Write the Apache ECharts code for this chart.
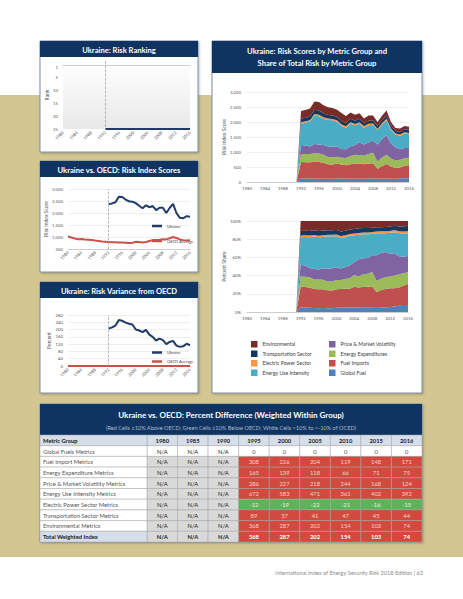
<!DOCTYPE html>
<html><head><meta charset="utf-8">
<script src="https://cdn.jsdelivr.net/npm/echarts@6.0.0/dist/echarts.min.js"></script>
<style>html,body{margin:0;padding:0;background:#fff}#c{width:463px;height:599px}</style>
</head><body><div id="c"></div>
<script>
// ---------- DATA ----------
const years = ['1980','1981','1982','1983','1984','1985','1986','1987','1988','1989','1990','1991','1992','1993','1994','1995','1996','1997','1998','1999','2000','2001','2002','2003','2004','2005','2006','2007','2008','2009','2010','2011','2012','2013','2014','2015','2016'];

const rankUkraine = [null,null,null,null,null,null,null,null,null,null,null,null,25,25,25,25,25,25,25,25,25,25,25,25,25,25,25,25,25,25,25,25,25,25,25,25,25];

const ukraineScore = [null,null,null,null,null,null,null,null,null,null,null,null,2370,2400,2450,2680,2670,2560,2490,2470,2410,2300,2200,2320,2240,2290,2120,2220,2220,2000,2210,2380,2000,1800,1780,1870,1840];
const oecdScore = [1020,980,940,910,920,900,890,880,850,830,810,800,790,785,780,770,770,760,750,755,800,790,775,790,830,870,880,890,910,900,950,1000,960,900,870,850,860];

const ukraineVariance = [null,null,null,null,null,null,null,null,null,null,null,null,205,212,222,252,248,238,232,228,200,195,186,198,172,160,140,150,142,120,132,138,112,105,108,122,114];
const oecdVariance = [0,0,0,0,0,0,0,0,0,0,0,0,0,0,0,0,0,0,0,0,0,0,0,0,0,0,0,0,0,0,0,0,0,0,0,0,0];

// metric group risk scores (1980-2016)
const globalFuel   = [0,0,0,0,0,0,0,0,0,0,0,0,120,120,115,115,110,110,105,105,115,115,110,115,110,115,110,115,115,110,115,120,110,110,120,125,125];
const fuelImports  = [0,0,0,0,0,0,0,0,0,0,0,0,545,540,545,560,560,530,490,480,490,465,450,480,510,500,480,500,510,330,420,480,410,360,360,420,440];
const energyExpend = [0,0,0,0,0,0,0,0,0,0,0,0,260,270,275,285,280,270,240,240,240,230,240,270,290,280,290,320,350,240,280,310,260,250,260,250,240];
const priceVol     = [0,0,0,0,0,0,0,0,0,0,0,0,310,290,250,310,300,320,350,360,340,290,290,330,320,430,370,380,410,570,620,660,500,440,350,340,330];
const energyUse    = [0,0,0,0,0,0,0,0,0,0,0,0,710,760,830,950,940,880,880,870,820,770,720,750,660,620,560,580,520,480,480,490,460,420,450,480,460];
const elecPower    = [0,0,0,0,0,0,0,0,0,0,0,0,45,45,45,50,50,50,50,45,50,50,45,45,45,45,45,45,45,40,45,50,40,40,40,40,40];
const transport    = [0,0,0,0,0,0,0,0,0,0,0,0,120,115,120,140,140,130,120,120,120,115,110,115,110,115,100,110,105,95,100,110,100,85,90,100,110];
const environ      = [0,0,0,0,0,0,0,0,0,0,0,0,260,260,270,270,290,270,255,250,235,265,235,215,195,185,165,170,165,135,150,160,120,95,110,115,95];

const groupNames = ['Global Fuel','Fuel Imports','Energy Expenditures','Price & Market Volatility','Energy Use Intensity','Electric Power Sector','Transportation Sector','Environmental'];
const groupData = [globalFuel, fuelImports, energyExpend, priceVol, energyUse, elecPower, transport, environ];

// table
const tableYears = ['1980','1985','1990','1995','2000','2005','2010','2015','2016'];
const metricGroups = ['Global Fuels Metrics','Fuel Import Metrics','Energy Expenditure Metrics','Price & Market Volatility Metrics','Energy Use Intensity Metrics','Electric Power Sector Metrics','Transportation Sector Metrics','Environmental Metrics','Total Weighted Index'];
const diffGlobalFuels = [null,null,null,0,0,0,0,0,0];
const diffFuelImport  = [null,null,null,308,226,204,119,148,171];
const diffEnergyExp   = [null,null,null,165,139,118,66,71,75];
const diffPriceVol    = [null,null,null,286,227,218,244,168,124];
const diffEnergyUse   = [null,null,null,672,583,471,361,402,392];
const diffElecPower   = [null,null,null,-12,-19,-22,-21,-16,-15];
const diffTransport   = [null,null,null,89,37,41,47,45,44];
const diffEnviron     = [null,null,null,368,287,202,154,103,74];
const diffTotal       = [null,null,null,368,287,202,154,103,74];
const tableRows = [diffGlobalFuels,diffFuelImport,diffEnergyExp,diffPriceVol,diffEnergyUse,diffElecPower,diffTransport,diffEnviron,diffTotal];

// ---------- STYLE ----------
const FONT = 'Lato, "Noto Sans", sans-serif';
const NAVY = '#0f3461';
const TAN = '#d3c690';
const LINE_NAVY = '#1f3b66';
const LINE_RED = '#c9524a';
const groupColors = ['#4f81bd','#c0504d','#9bbb59','#8064a2','#4bacc6','#f79646','#17375e','#772c2a'];
const HEAD_BG = '#d6deea';
const RED = '#d24a3e';
const GREEN = '#5cb45a';

const chart = echarts.init(document.getElementById('c'), null, {renderer: 'svg'});

function panel(x, y, w, h) {
  return {type:'rect', silent:true, z:-10, shape:{x, y, width:w, height:h},
    style:{fill:'#ffffff', stroke:'#7f8ea6', lineWidth:1, shadowBlur:2, shadowOffsetX:1, shadowOffsetY:1, shadowColor:'rgba(0,0,0,0.25)'}};
}
function bar(x, y, w, h) {
  return {type:'rect', silent:true, z:-9, shape:{x, y, width:w, height:h}, style:{fill:NAVY}};
}
function txt(x, y, text, size, weight, color, align) {
  return {type:'text', silent:true, z:-8, x, y,
    style:{text, fill:color, fontSize:size, fontWeight:weight, fontFamily:FONT,
      align:align || 'center', verticalAlign:'middle', textAlign:align || 'center', textVerticalAlign:'middle'}};
}

const graphics = [
  {type:'rect', silent:true, z:-11, shape:{x:0, y:95, width:463, height:462}, style:{fill:TAN}},
  panel(40,41,158,111), bar(40,41,158,16), txt(119,49.5,'Ukraine: Risk Ranking',7.6,'bold','#fff'),
  panel(40,161,158,111), bar(40,161,158,16), txt(119,169.5,'Ukraine vs. OECD: Risk Index Scores',7.6,'bold','#fff'),
  panel(40,282,158,111), bar(40,282,158,16), txt(119,290.5,'Ukraine: Risk Variance from OECD',7.6,'bold','#fff'),
  panel(212,41,210,352), bar(212,41,210,32),
  txt(317,51,'Ukraine: Risk Scores by Metric Group and',7.6,'bold','#fff'),
  txt(317,62.5,'Share of Total Risk by Metric Group',7.6,'bold','#fff'),
  panel(40,404,382,138), bar(40,404,382,31),
  txt(231,414.5,'Ukraine vs. OECD: Percent Difference (Weighted Within Group)',8,'bold','#fff'),
  txt(231,427.5,'(Red Cells \u226510% Above OECD; Green Cells \u226410% Below OECD; White Cells <10% to <-10% of OCED)',5.6,'normal','#aebbd0'),
  txt(423,572.5,'International Index of Energy Security Risk 2018 Edition | 63',5.6,'normal','#8a8a8a','right')
];

const labelStyle = {fontSize:4.3, color:'#595959', fontFamily:FONT};
const nameStyle = {fontSize:5, color:'#595959', fontFamily:FONT};

function catX(gi, rotate) {
  return {type:'category', gridIndex:gi, data:years, boundaryGap:false,
    axisTick:{show:false}, axisLine:{lineStyle:{color:'#c4c4c4', width:0.8}},
    axisLabel:Object.assign({}, labelStyle, {interval:3, rotate:rotate, margin: rotate ? 3 : 4}),
    splitLine:{show:false}};
}
function valY(gi, opts) {
  return Object.assign({type:'value', gridIndex:gi, axisTick:{show:false}, axisLine:{show:false},
    axisLabel:Object.assign({}, labelStyle, {margin:5}),
    splitLine:{show:true, lineStyle:{color:'#e2e2e2', width:0.6}},
    nameLocation:'middle', nameTextStyle:nameStyle}, opts);
}
const fmtThousands = v => v.toLocaleString('en-US');

const dashed1992 = {symbol:'none', silent:true, label:{show:false}, animation:false,
  lineStyle:{type:'dashed', color:'#9a9a9a', width:0.7}, data:[{xAxis:'1992'}]};

const lineSeries = (name, xi, data, color, mark) => ({
  name, type:'line', xAxisIndex:xi, yAxisIndex:xi, data, symbol:'none', connectNulls:false,
  lineStyle:{color, width:2}, itemStyle:{color}, markLine: mark ? dashed1992 : undefined
});

const totals = years.map((_, i) => groupData.reduce((s, arr) => s + arr[i], 0));
const share = arr => arr.map((v, i) => totals[i] ? +(v / totals[i] * 100).toFixed(2) : 0);

const stackSeries = [];
groupNames.forEach((name, k) => {
  stackSeries.push({name, type:'line', xAxisIndex:3, yAxisIndex:3, stack:'abs', data:groupData[k],
    symbol:'none', lineStyle:{width:0}, areaStyle:{color:groupColors[k], opacity:1}, itemStyle:{color:groupColors[k]}});
});
groupNames.forEach((name, k) => {
  stackSeries.push({name, type:'line', xAxisIndex:4, yAxisIndex:4, stack:'pct', data:share(groupData[k]),
    symbol:'none', lineStyle:{width:0}, areaStyle:{color:groupColors[k], opacity:1}, itemStyle:{color:groupColors[k]}});
});

// table cells
const rowNames = ['Metric Group'].concat(metricGroups);
const cells = [];
tableYears.forEach((y, c) => cells.push({col:c, row:0, text:y, bg:HEAD_BG, color:'#1a1a1a', bold:true}));
tableRows.forEach((vals, r) => vals.forEach((v, c) => {
  const isTotal = r === tableRows.length - 1;
  let bg, color;
  if (v === null) { bg = r === 0 ? '#ffffff' : '#d9d9d9'; color = '#222'; }
  else if (v >= 10) { bg = RED; color = isTotal ? '#ffffff' : '#f6d2cc'; }
  else if (v <= -10) { bg = GREEN; color = '#e4f3e2'; }
  else { bg = '#ffffff'; color = '#555'; }
  cells.push({col:c, row:r + 1, text: v === null ? 'N/A' : String(v), bg, color, bold:isTotal});
}));
const labelCells = rowNames.map((n, r) => {
  const head = r === 0 || r === rowNames.length - 1;
  return {col:0, row:r, text:n, bg: head ? HEAD_BG : '#ffffff', color: head ? '#1a1a1a' : '#555', bold: head};
});

function cellRenderer(list, leftAlign) {
  return function (params, api) {
    const cell = list[params.dataIndex];
    const p = api.coord([api.value(0), api.value(1)]);
    const s = api.size([1, 1]);
    const w = Math.abs(s[0]), h = Math.abs(s[1]);
    const x = p[0] - w / 2, y = p[1] - h / 2;
    return {type:'group', children:[
      {type:'rect', shape:{x, y, width:w, height:h}, style:{fill:cell.bg, stroke:'#a3a3a3', lineWidth:0.5}},
      {type:'text', style:{text:cell.text, x: leftAlign ? x + 3 : p[0], y: p[1],
        align: leftAlign ? 'left' : 'center', verticalAlign:'middle',
        fill:cell.color, fontSize:5.8, fontWeight: cell.bold ? 'bold' : 'normal', fontFamily:FONT}}
    ]};
  };
}

const gridBase = {containLabel:false, outerBoundsMode:'none'};
const option = {
  animation:false,
  backgroundColor:'#ffffff',
  textStyle:{fontFamily:FONT},
  graphic:{elements:graphics},
  grid:[
    Object.assign({left:63, top:61, width:127, height:68, show:true, borderWidth:0,
      backgroundColor:new echarts.graphic.LinearGradient(0,0,0,1,[{offset:0,color:'#ffffff'},{offset:1,color:'#e8e8e8'}])}, gridBase),
    Object.assign({left:68, top:189, width:122, height:60}, gridBase),
    Object.assign({left:68, top:315, width:122, height:51}, gridBase),
    Object.assign({left:247, top:92, width:162, height:90}, gridBase),
    Object.assign({left:247, top:221, width:161, height:91}, gridBase),
    Object.assign({left:147, top:435, width:275, height:107}, gridBase),
    Object.assign({left:40, top:435, width:107, height:107}, gridBase)
  ],
  xAxis:[
    catX(0,45), catX(1,45), catX(2,45), catX(3,0), catX(4,0),
    {type:'category', gridIndex:5, data:tableYears, show:false},
    {type:'category', gridIndex:6, data:['Metric Group'], show:false}
  ],
  yAxis:[
    valY(0, {inverse:true, min:-1.5, max:25, splitLine:{show:false},
      axisLabel:Object.assign({}, labelStyle, {margin:5, customValues:[1,5,10,15,20,25]}),
      name:'Rank', nameGap:11}),
    valY(1, {min:500, max:3000, interval:500, axisLabel:Object.assign({}, labelStyle, {margin:5, formatter:fmtThousands}),
      name:'Risk Index Score', nameGap:17}),
    valY(2, {min:0, max:280, interval:40, name:'Percent', nameGap:16}),
    valY(3, {min:0, max:3000, interval:500, axisLabel:Object.assign({}, labelStyle, {margin:6, formatter:fmtThousands}),
      name:'Risk Index Score', nameGap:20}),
    valY(4, {min:0, max:100, interval:20, axisLabel:Object.assign({}, labelStyle, {margin:6, formatter:'{value}%'}),
      name:'Percent Share', nameGap:20}),
    {type:'category', gridIndex:5, data:rowNames, inverse:true, show:false},
    {type:'category', gridIndex:6, data:rowNames, inverse:true, show:false}
  ],
  legend:[
    {data:[{name:'Ukraine', icon:'rect'}, {name:'OECD Average', icon:'rect'}], left:147, top:219, orient:'vertical',
      itemWidth:10, itemHeight:2.5, itemGap:11, selectedMode:false, textStyle:{fontSize:4, color:'#404040', fontFamily:FONT}},
    {data:[{name:'Ukraine', icon:'rect'}, {name:'OECD Average', icon:'rect'}], left:147, top:345.5, orient:'vertical',
      itemWidth:10, itemHeight:2.5, itemGap:5, selectedMode:false, textStyle:{fontSize:4, color:'#404040', fontFamily:FONT}},
    {data:['Environmental','Transportation Sector','Electric Power Sector','Energy Use Intensity'].map(n => ({name:n, icon:'rect'})),
      left:246, top:336, orient:'vertical', itemWidth:6.5, itemHeight:6.5, itemGap:3, selectedMode:false,
      textStyle:{fontSize:5.2, color:'#404040', fontFamily:FONT}},
    {data:['Price & Market Volatility','Energy Expenditures','Fuel Imports','Global Fuel'].map(n => ({name:n, icon:'rect'})),
      left:324, top:336, orient:'vertical', itemWidth:6.5, itemHeight:6.5, itemGap:3, selectedMode:false,
      textStyle:{fontSize:5.2, color:'#404040', fontFamily:FONT}}
  ],
  series:[
    lineSeries('Rank', 0, rankUkraine, LINE_NAVY, true),
    lineSeries('Ukraine', 1, ukraineScore, LINE_NAVY, true),
    lineSeries('OECD Average', 1, oecdScore, LINE_RED, false),
    lineSeries('Ukraine', 2, ukraineVariance, LINE_NAVY, true),
    lineSeries('OECD Average', 2, oecdVariance, LINE_RED, false)
  ].concat(stackSeries).concat([
    {type:'custom', xAxisIndex:5, yAxisIndex:5, silent:true, clip:false,
      data:cells.map(c => [c.col, c.row]), renderItem:cellRenderer(cells, false)},
    {type:'custom', xAxisIndex:6, yAxisIndex:6, silent:true, clip:false,
      data:labelCells.map(c => [c.col, c.row]), renderItem:cellRenderer(labelCells, true)}
  ])
};
chart.setOption(option);
</script></body></html>
